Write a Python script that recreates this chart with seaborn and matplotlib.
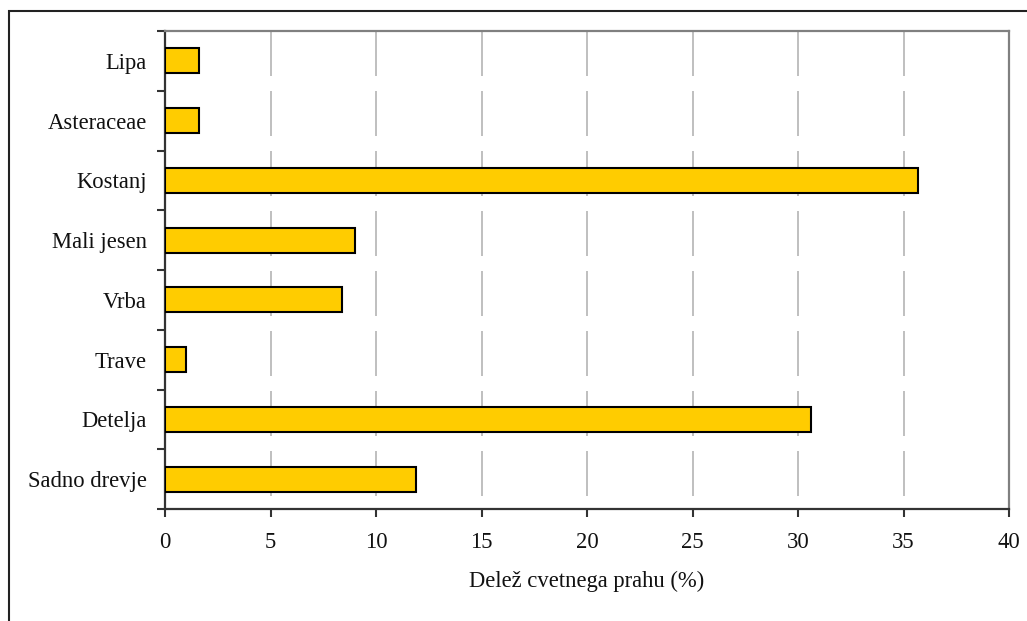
import matplotlib
matplotlib.use("Agg")
import matplotlib.pyplot as plt
import seaborn as sns
import pandas as pd
import numpy as np
from matplotlib.patches import Rectangle

# Pollen share by plant source
categories = ["Lipa", "Asteraceae", "Kostanj", "Mali jesen", "Vrba", "Trave",
              "Detelja", "Sadno drevje"]
shares = [1.6, 1.6, 35.7, 9.0, 8.4, 1.0, 30.6, 11.9]
x_ticks = [0, 5, 10, 15, 20, 25, 30, 35, 40]
x_label = "Delež cvetnega prahu (%)"

df = pd.DataFrame({"rastlina": categories, "delez": shares})

sns.set_style("white")
plt.rcParams["font.family"] = ["Liberation Serif", "DejaVu Serif"]
plt.rcParams["lines.scale_dashes"] = False

fig = plt.figure(figsize=(10.27, 6.21), dpi=100)
ax = fig.add_axes([165 / 1027, 1 - 509 / 621, (1009 - 165) / 1027, (509 - 31) / 621])

ax.set_xlim(0, 40)
ax.set_ylim(len(categories) - 0.5, -0.5)

# vertical gridlines, dashed from the top edge downward
ax.vlines(x_ticks[1:-1], -0.5, len(categories) - 0.5, colors="#B4B4B4",
          linewidth=1.2, linestyles=[(0, (32.4, 10.8))], zorder=0)

sns.barplot(data=df, x="delez", y="rastlina", order=categories, orient="h",
            color="#FFCC00", saturation=1, width=0.42,
            edgecolor="black", linewidth=1.5, ax=ax, zorder=3)

ax.set_xlim(0, 40)
ax.set_ylim(len(categories) - 0.5, -0.5)
ax.set_xticks(x_ticks)
ax.set_xticklabels([str(t) for t in x_ticks])

# category labels at centres, tick marks at the boundaries between bars
ax.set_yticks(range(len(categories)))
ax.set_yticklabels(categories)
ax.set_yticks(np.arange(-0.5, len(categories)), minor=True)
ax.tick_params(axis="y", which="major", length=0, pad=13, labelsize=16.3,
               labelcolor="#111111")
ax.tick_params(axis="y", which="minor", length=6, width=1.5, color="#333333",
               direction="out", left=True)
ax.tick_params(axis="x", which="major", length=6, width=1.5, color="#333333",
               direction="out", bottom=True, pad=10.5, labelsize=16.3,
               labelcolor="#111111")

ax.set_xlabel(x_label, fontsize=16.3, labelpad=13, color="#111111")
ax.set_ylabel("")
ax.grid(False)

for side in ["left", "bottom"]:
    ax.spines[side].set_color("#333333")
    ax.spines[side].set_linewidth(1.6)
for side in ["top", "right"]:
    ax.spines[side].set_visible(True)
    ax.spines[side].set_color("#808080")
    ax.spines[side].set_linewidth(1.6)

# outer chart frame
fig.patches.append(Rectangle((9 / 1027, -0.05), 1.1, 1.05 - 11 / 621,
                             transform=fig.transFigure, fill=False,
                             edgecolor="#222222", linewidth=1.5))

fig.savefig("out.png", dpi=100, facecolor="white")
